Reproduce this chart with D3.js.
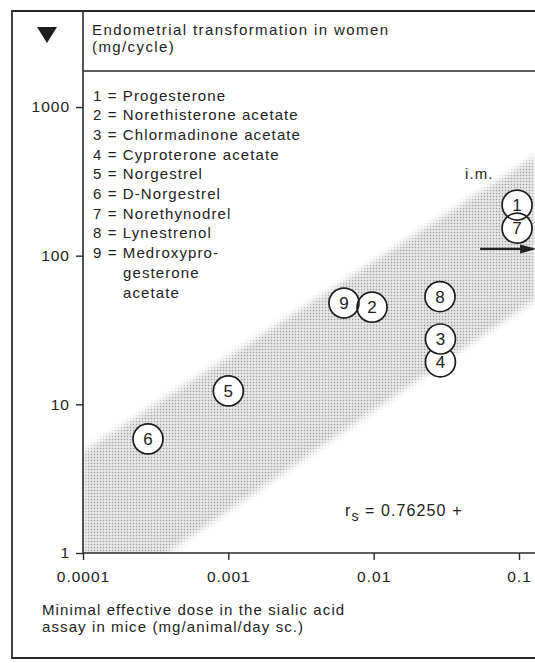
<!DOCTYPE html>
<html>
<head>
<meta charset="utf-8">
<script src="https://cdn.jsdelivr.net/npm/d3@7/dist/d3.min.js"></script>
<style>
  html, body { margin: 0; padding: 0; background: #fff; }
  svg { display: block; }
  text { font-family: "Liberation Sans", Arial, sans-serif; fill: #222; letter-spacing: 1.1px; }
</style>
</head>
<body>
<div id="chart"></div>
<script>
// Compounds: id, name, dose in mice (x), dose in women (y)
const ids = [1, 2, 3, 4, 5, 6, 7, 8, 9];
const names = ['Progesterone', 'Norethisterone acetate', 'Chlormadinone acetate',
  'Cyproterone acetate', 'Norgestrel', 'D-Norgestrel', 'Norethynodrel',
  'Lynestrenol', 'Medroxypro-', 'gesterone', 'acetate'];
const miceDose = [0.097, 0.00975, 0.0288, 0.0288, 0.001, 0.00028, 0.097, 0.0286, 0.00625];
const womenDose = [219, 45, 27.5, 19.3, 12.3, 5.85, 153, 53, 48];
// drawing order (4 sits behind 3)
const drawOrder = [3, 0, 6, 1, 8, 2, 4, 5, 7];

const xTicks = [0.0001, 0.001, 0.01, 0.1];
const xTickLabels = ['0.0001', '0.001', '0.01', '0.1'];
const yTicks = [1, 10, 100, 1000];

// shaded band edges (log-log straight lines)
const bandUpperX = [0.0001, 0.13];
const bandUpperY = [4.8, 470];
const bandLowerX = [0.13, 0.0001];
const bandLowerY = [51, 0.41];

// i.m. arrow
const arrowX = [0.054, 0.13];
const arrowY = 111;

const W = 535, H = 663;
const axisLeftX = 83, axisBottomY = 553, frameTop = 11, frameLeft = 12, frameBottom = 658, headerY = 71;

const svg = d3.select('#chart').append('svg')
    .attr('width', W)
    .attr('height', H);

const x = d3.scaleLog().domain([0.0001, 0.1]).range([axisLeftX, 519]);
const y = d3.scaleLog().domain([1, 1000]).range([axisBottomY, 107]);

const defs = svg.append('defs');

let pat = defs.append('pattern')
    .attr('id', 'dots')
    .attr('patternUnits', 'userSpaceOnUse')
    .attr('width', 3)
    .attr('height', 3);
pat.append('rect').attr('width', 3).attr('height', 3).attr('fill', '#ebebeb');
pat.append('rect').attr('x', 0.75).attr('y', 0.75).attr('width', 1.5).attr('height', 1.5).attr('fill', '#9e9e9e');

defs.append('filter')
    .attr('id', 'soft')
    .attr('x', '-10%').attr('y', '-10%').attr('width', '120%').attr('height', '120%')
    .append('feGaussianBlur')
    .attr('stdDeviation', 3);

defs.append('clipPath')
    .attr('id', 'plotclip')
    .append('rect')
    .attr('x', axisLeftX)
    .attr('y', headerY)
    .attr('width', W - axisLeftX)
    .attr('height', axisBottomY - headerY);

const bandPts = bandUpperX.map((d, i) => [x(d), y(bandUpperY[i])])
    .concat(bandLowerX.map((d, i) => [x(d), y(bandLowerY[i])]));

let mask = defs.append('mask').attr('id', 'bandmask');
mask.append('polygon')
    .attr('points', bandPts.map((p) => p.join(',')).join(' '))
    .attr('fill', '#fff')
    .attr('filter', 'url(#soft)');

svg.append('g')
    .attr('clip-path', 'url(#plotclip)')
    .append('rect')
    .attr('x', 0).attr('y', 0).attr('width', W).attr('height', H)
    .attr('fill', 'url(#dots)')
    .attr('mask', 'url(#bandmask)');

// Frame and header.
const frameColor = '#2a2a2a';
svg.append('path')
    .attr('d', `M${W + 5},${frameTop} H${frameLeft} V${frameBottom} H${W + 5}`)
    .attr('fill', 'none')
    .attr('stroke', frameColor)
    .attr('stroke-width', 1.8);

svg.append('line')
    .attr('x1', axisLeftX).attr('x2', W + 5)
    .attr('y1', headerY).attr('y2', headerY)
    .attr('stroke', frameColor)
    .attr('stroke-width', 1.6);

svg.append('line')
    .attr('x1', axisLeftX).attr('x2', axisLeftX)
    .attr('y1', frameTop).attr('y2', axisBottomY)
    .attr('stroke', frameColor)
    .attr('stroke-width', 1.6);

svg.append('path')
    .attr('d', 'M37,27 L57,27 L47,43 Z')
    .attr('fill', '#1e1e1e');

svg.append('text')
    .attr('x', 92).attr('y', 35)
    .style('font-size', '15px')
    .style('letter-spacing', '1.4px')
    .text('Endometrial transformation in women');
svg.append('text')
    .attr('x', 92).attr('y', 52)
    .style('font-size', '15px')
    .style('letter-spacing', '1.4px')
    .text('(mg/cycle)');

// Legend.
svg.append('g')
    .selectAll('text')
    .data(names)
    .enter()
    .append('text')
    .attr('x', (d, i) => i < ids.length ? 93 : 123)
    .attr('y', (d, i) => 100.5 + i * 19.7)
    .style('font-size', '15px')
    .text((d, i) => i < ids.length ? ids[i] + ' = ' + d : d);

// Axes.
let xAxis = d3.axisBottom(x)
    .tickValues(xTicks)
    .tickFormat((d, i) => xTickLabels[i])
    .tickSize(7)
    .tickPadding(11);

let gx = svg.append('g')
    .attr('transform', 'translate(0,' + axisBottomY + ')')
    .call(xAxis);
gx.select('.domain').remove();
gx.append('line')
    .attr('x1', axisLeftX).attr('x2', W + 5)
    .attr('stroke', frameColor)
    .attr('stroke-width', 1.6);

let yAxis = d3.axisLeft(y)
    .tickValues(yTicks)
    .tickFormat(d3.format('d'))
    .tickSize(7)
    .tickPadding(6);

let gy = svg.append('g')
    .attr('transform', 'translate(' + axisLeftX + ',0)')
    .call(yAxis);
gy.select('.domain').remove();

svg.selectAll('.tick line')
    .attr('stroke', frameColor)
    .attr('stroke-width', 1.4);
svg.selectAll('.tick text')
    .attr('fill', '#222')
    .style('font-family', '"Liberation Sans", Arial, sans-serif')
    .style('font-size', '15.5px')
    .style('letter-spacing', '1px');

// X title.
svg.append('text')
    .attr('x', 42).attr('y', 615)
    .style('font-size', '15px')
    .text('Minimal effective dose in the sialic acid');
svg.append('text')
    .attr('x', 42).attr('y', 632)
    .style('font-size', '15px')
    .text('assay in mice (mg/animal/day sc.)');

// Arrow for i.m. value.
svg.append('line')
    .attr('x1', x(arrowX[0])).attr('x2', x(arrowX[1]) - 8)
    .attr('y1', y(arrowY)).attr('y2', y(arrowY))
    .attr('stroke', '#222')
    .attr('stroke-width', 2.2);
svg.append('path')
    .attr('d', `M${x(arrowX[0]) + 40},${y(arrowY) - 4.5} L${x(arrowX[0]) + 56},${y(arrowY)} L${x(arrowX[0]) + 40},${y(arrowY) + 4.5} Z`)
    .attr('fill', '#222');

svg.append('text')
    .attr('x', x(0.0425)).attr('y', y(328))
    .style('font-size', '15px')
    .text('i.m.');

// Points: 4 is drawn fully behind 3; the other overlapping pairs show both rings.
const pts = svg.append('g');
const behind = pts.append('g');
const front = pts.append('g');
behind.append('circle')
    .attr('cx', x(miceDose[3]))
    .attr('cy', y(womenDose[3]))
    .attr('r', 15)
    .attr('fill', '#fff')
    .attr('stroke', '#1e1e1e')
    .attr('stroke-width', 1.7);
const others = drawOrder.filter((i) => i !== 3);
front.selectAll('circle.fill')
    .data(others)
    .enter()
    .append('circle')
    .attr('class', 'fill')
    .attr('cx', (i) => x(miceDose[i]))
    .attr('cy', (i) => y(womenDose[i]))
    .attr('r', 15)
    .attr('fill', '#fff');
front.selectAll('circle.ring')
    .data(others)
    .enter()
    .append('circle')
    .attr('class', 'ring')
    .attr('cx', (i) => x(miceDose[i]))
    .attr('cy', (i) => y(womenDose[i]))
    .attr('r', 15)
    .attr('fill', 'none')
    .attr('stroke', '#1e1e1e')
    .attr('stroke-width', 1.7);
pts.selectAll('text')
    .data(drawOrder)
    .enter()
    .append('text')
    .attr('x', (i) => x(miceDose[i]))
    .attr('y', (i) => y(womenDose[i]) + 6)
    .attr('text-anchor', 'middle')
    .style('font-size', '17px')
    .style('letter-spacing', '0px')
    .text((i) => ids[i]);

// Spearman correlation.
let rs = svg.append('text')
    .attr('x', x(0.00635)).attr('y', y(1.77))
    .style('font-size', '16px');
rs.append('tspan').text('r');
rs.append('tspan').attr('dy', 5).style('font-size', '14px').text('s');
rs.append('tspan').attr('dy', -5).text(' = 0.76250 +');
</script>
</body>
</html>
